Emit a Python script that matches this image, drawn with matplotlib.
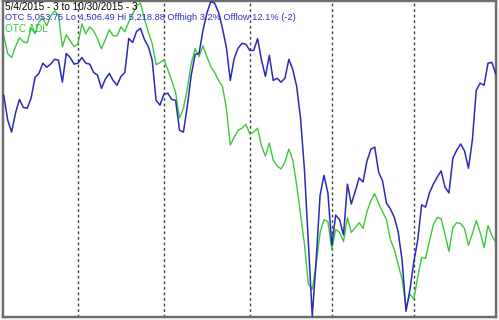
import matplotlib
matplotlib.use("Agg")
import matplotlib.pyplot as plt
from matplotlib import font_manager

# Trading days 5/4/2015 .. 10/30/2015 (index 0..126)
month_starts = [19, 41, 63, 84, 105]  # Jun 1, Jul 1, Aug 3, Sep 1, Oct 1

otc_close = [
    5006, 4950, 4923, 4966, 4997, 4979, 4977, 5000, 5047, 5056,
    5079, 5070, 5077, 5088, 5086, 5036, 5101, 5092, 5077, 5079,
    5092, 5079, 5077, 5058, 5052, 5022, 5043, 5056, 5040, 5029,
    5049, 5058, 5135, 5126, 5151, 5158, 5133, 5117, 5086, 4995,
    4984, 5009, 5011, 4997, 4995, 4927, 4923, 4982, 5052, 5099,
    5101, 5153, 5192, 5219, 5215, 5194, 5158, 5115, 5040, 5090,
    5113, 5124, 5122, 5108, 5108, 5135, 5086, 5049, 5097, 5040,
    5045, 5036, 5045, 5088, 5065, 5027, 4954, 4837, 4672, 4506,
    4633, 4780, 4825, 4785, 4667, 4735, 4724, 4690, 4805, 4760,
    4789, 4819, 4810, 4857, 4884, 4889, 4832, 4812, 4762, 4749,
    4730, 4697, 4633, 4517, 4565, 4629, 4678, 4758, 4753, 4785,
    4805, 4821, 4835, 4798, 4785, 4864, 4882, 4896, 4880, 4841,
    4905, 5018, 5034, 5029, 5079, 5081, 5054,
]

otc_adl = [
    281, 263, 259, 270, 279, 275, 274, 289, 283, 295,
    299, 291, 301, 306, 302, 270, 282, 276, 270, 273,
    293, 283, 290, 286, 278, 268, 277, 287, 281, 281,
    290, 285, 295, 303, 311, 314, 298, 285, 273, 252,
    254, 257, 247, 236, 224, 198, 208, 228, 253, 268,
    260, 271, 260, 250, 244, 236, 230, 208, 171, 179,
    186, 188, 192, 182, 184, 188, 170, 160, 173, 156,
    150, 147, 154, 167, 156, 131, 101, 71, 31, 26,
    51, 83, 96, 94, 66, 86, 83, 74, 98, 83,
    88, 93, 87, 104, 115, 122, 112, 104, 96, 76,
    66, 51, 36, 8, 21, 16, 38, 58, 57, 74,
    91, 98, 97, 81, 64, 88, 93, 92, 87, 70,
    82, 95, 83, 68, 90, 80, 73,
]

title_line = "5/4/2015 - 3 to 10/30/2015 - 3"
otc_line = "OTC 5,053.75 Lo 4,506.49 Hi 5,218.88 Offhigh 3.2% Offlow 12.1% (-2)"
adl_line = "OTC ADL"

W, H = 499, 320
fig = plt.figure(figsize=(W / 100, H / 100), dpi=100)
fig.patch.set_facecolor("#f4f4f4")

ax2 = fig.add_axes([2.5 / W, (H - 317) / H, 494 / W, 316 / H])
ax = ax2.twinx()
ax2.set_facecolor("white")
ax.patch.set_visible(False)

n = len(otc_close)
xs = list(range(n))
px = 3.905
xl = (-1.3 / px, (n - 1) + 0.7 / px)
ax.set_xlim(*xl)
ax2.set_xlim(*xl)
ax.set_ylim(4504, 5220)
ax2.set_ylim(-2, 316)

for m in month_starts:
    ax2.axvline(m, color="#404040", linestyle=(0, (2, 2)), linewidth=1.0, zorder=1)

ax2.plot(xs, otc_adl, color="#3dc83d", linewidth=1.0, zorder=2)
ax.plot(xs, otc_close, color="#2a2ab8", linewidth=1.1, zorder=3)

for a in (ax, ax2):
    a.set_xticks([])
    a.set_yticks([])
    for s in a.spines.values():
        s.set_color("#6e6e6e")
        s.set_linewidth(1.6)

avail = {f.name for f in font_manager.fontManager.ttflist}
fam = ["Liberation Sans Narrow"] if "Liberation Sans Narrow" in avail else ["Liberation Sans"]
fs = 7.2
fig.text(5 / W, 1 - 2 / H, title_line, color="black", fontsize=fs, family=fam, va="top", ha="left")
fig.text(5 / W, 1 - 13 / H, otc_line, color="#2f2fc8", fontsize=6.7, family=fam, va="top", ha="left")
fig.text(5 / W, 1 - 24 / H, adl_line, color="#38c838", fontsize=fs, family=fam, va="top", ha="left")

fig.savefig("out.png", dpi=100, facecolor=fig.get_facecolor())
